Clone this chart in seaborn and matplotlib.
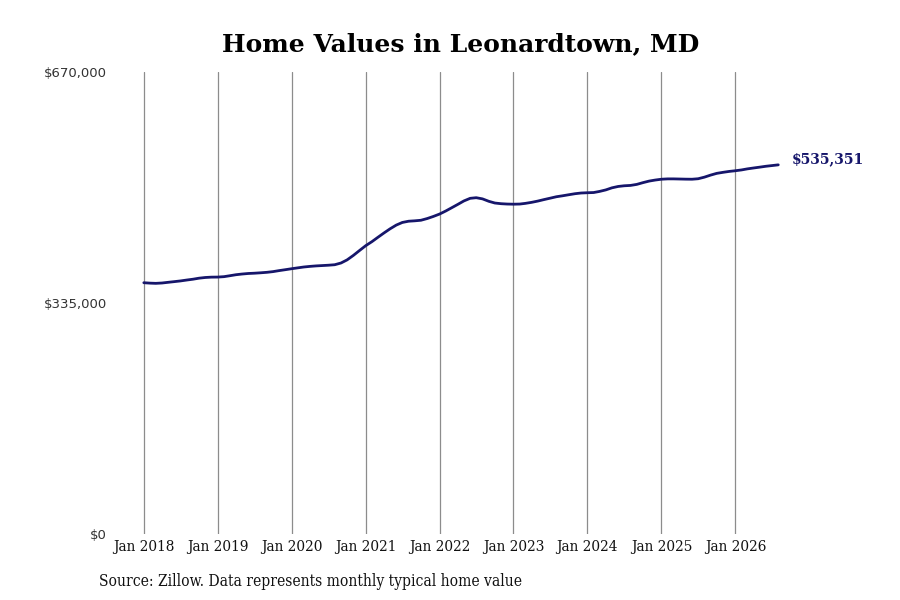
import pandas as pd
import matplotlib.pyplot as plt
import seaborn as sns

# monthly typical home value, Jan 2018 - Aug 2026
values_2018 = [364400, 363800, 363500, 364000, 365000, 366000, 367000, 368300, 369500, 371000, 372000, 372500]
values_2019 = [372600, 373200, 374500, 376000, 377000, 377800, 378200, 378800, 379500, 380500, 382000, 383300]
values_2020 = [384700, 386000, 387200, 388100, 388800, 389300, 389800, 390500, 393000, 397500, 404000, 411000]
values_2021 = [418100, 424000, 430000, 436500, 442500, 448000, 451800, 453600, 454200, 455000, 457500, 460500]
values_2022 = [464000, 468500, 473000, 478000, 483000, 486800, 487700, 486000, 482500, 480000, 479000, 478500]
values_2023 = [478300, 478500, 479500, 481000, 482800, 485000, 487000, 489100, 490500, 492000, 493500, 494500]
values_2024 = [494900, 495200, 496800, 499000, 502000, 504000, 505000, 505500, 507000, 509500, 511800, 513300]
values_2025 = [514500, 515000, 515000, 514800, 514600, 514500, 515200, 517500, 520500, 523000, 524500, 525800]
values_2026 = [526800, 528000, 529500, 530800, 532000, 533300, 534300, 535351]

values = (values_2018 + values_2019 + values_2020 + values_2021 + values_2022
          + values_2023 + values_2024 + values_2025 + values_2026)
dates = pd.date_range("2018-01-01", periods=len(values), freq="MS")
df = pd.DataFrame({"date": dates, "value": values})

y_ticks = [0, 335000, 670000]
y_labels = ["$0", "$335,000", "$670,000"]
x_ticks = pd.date_range("2018-01-01", "2026-01-01", freq="YS")
x_labels = [f"Jan {d.year}" for d in x_ticks]

sns.set_style("white")
plt.rcParams['font.family'] = ['DejaVu Serif']

line_color = "#16166b"
text_color = "#111111"

fig = plt.figure(figsize=(9, 6), dpi=100)
ax = fig.add_axes([0.122, 0.11, 0.745, 0.77])

sns.lineplot(data=df, x="date", y="value", color=line_color, linewidth=2, ax=ax)

ax.set_ylim(0, 670000)
ax.set_xlim(pd.Timestamp("2017-07-17"), pd.Timestamp("2026-08-11"))
ax.set_yticks(y_ticks)
ax.set_yticklabels(y_labels, fontsize=9.5, family="DejaVu Sans", color="#333333")
ax.set_xticks(x_ticks)
ax.set_xticklabels(x_labels, fontsize=11, fontstretch="condensed", color=text_color)
ax.tick_params(axis="both", length=0)
ax.tick_params(axis="x", pad=4)
ax.tick_params(axis="y", pad=2)
ax.xaxis.grid(True, color="#8c8c8c", linewidth=0.9)
ax.yaxis.grid(False)
for s in ax.spines.values():
    s.set_visible(False)
ax.set_xlabel("")
ax.set_ylabel("")

# end label
last = df.iloc[-1]
ax.annotate(f"${last['value']:,.0f}", xy=(last["date"], last["value"]),
            xytext=(10, 4), textcoords="offset points", va="center", ha="left",
            fontsize=10, fontweight="bold", color=line_color, annotation_clip=False)

fig.text(0.512, 0.927, "Home Values in Leonardtown, MD", ha="center", va="center",
         fontsize=18, fontweight="bold", color="black")
fig.text(0.11, 0.03, "Source: Zillow. Data represents monthly typical home value",
         ha="left", va="center", fontsize=11.2, fontstretch="condensed", color=text_color)

fig.savefig("out.png", dpi=100)
